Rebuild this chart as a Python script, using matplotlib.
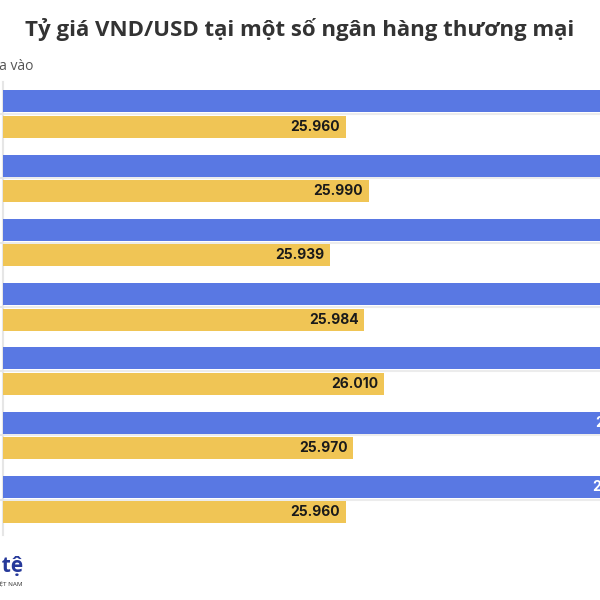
import matplotlib
matplotlib.use("Agg")
import matplotlib.pyplot as plt
import numpy as np

# du lieu
ngan_hang = ["Vietcombank", "BIDV", "VietinBank", "Agribank", "Techcombank", "ACB", "Sacombank"]
ban_ra = [26380, 26380, 26369, 26374, 26400, 26357, 26353]
mua_vao = [25960, 25990, 25939, 25984, 26010, 25970, 25960]

mau_xanh = "#5978E3"
mau_vang = "#F0C555"

def fmt(v):
    return f"{v:,}".replace(",", ".")

W = 600.0
fig = plt.figure(figsize=(6, 6), dpi=100)
fig.patch.set_facecolor("white")

# truc rong hon khung hinh (hinh goc bi cat)
ax = fig.add_axes([3 / W, 65 / W, 697 / W, 453 / W])
ax.set_xlim(25512, 25512 + 697 / 0.765)
ax.set_ylim(6.55, -0.5)

y = np.arange(len(ngan_hang))
h = 0.342
off = 0.198
ax.barh(y - off, ban_ra, height=h, left=0, color=mau_xanh, zorder=3)
ax.barh(y + off, mua_vao, height=h, left=0, color=mau_vang, zorder=3)

for i in range(len(ngan_hang)):
    ax.annotate(fmt(ban_ra[i]), (ban_ra[i], y[i] - off), xytext=(-4, 0),
                textcoords="offset points", ha="right", va="center",
                color="white", fontsize=10, fontweight="bold", family="Inter",
                zorder=4, annotation_clip=False)
    ax.annotate(fmt(mua_vao[i]), (mua_vao[i], y[i] + off), xytext=(-4, 0),
                textcoords="offset points", ha="right", va="center",
                color="#1a1a1a", fontsize=10, fontweight="bold", family="Inter",
                zorder=4)

ax.set_yticks(y)
ax.set_yticklabels(ngan_hang)
ax.tick_params(axis="y", length=3, color="#e8e8e8", width=1.5)
ax.tick_params(axis="x", bottom=False, labelbottom=False)
ax.grid(axis="y", color="#ececec", linewidth=1.5, zorder=0)
for s in ["top", "right", "bottom"]:
    ax.spines[s].set_visible(False)
ax.spines["left"].set_color("#e6e6e6")
ax.spines["left"].set_linewidth(1.5)

fig.text(0.5, 1 - 36 / W, "Tỷ giá VND/USD tại một số ngân hàng thương mại",
         ha="center", va="baseline", fontsize=16, fontweight="bold",
         color="#333333", family="Open Sans")
fig.text(33 / W, 1 - 70 / W, "Mua vào", ha="right", va="baseline",
         fontsize=10, color="#555555", family="Open Sans")

# logo
fig.text(23 / W, 1 - 572 / W, "Tiền tệ", ha="right", va="baseline",
         fontsize=15, fontweight="bold", color="#26399a", family="Open Sans")
fig.text(23 / W, 1 - 585 / W, "VIỆT NAM", ha="right", va="baseline",
         fontsize=4.5, color="#333333", family="Open Sans")

fig.savefig("out.png", dpi=100)
